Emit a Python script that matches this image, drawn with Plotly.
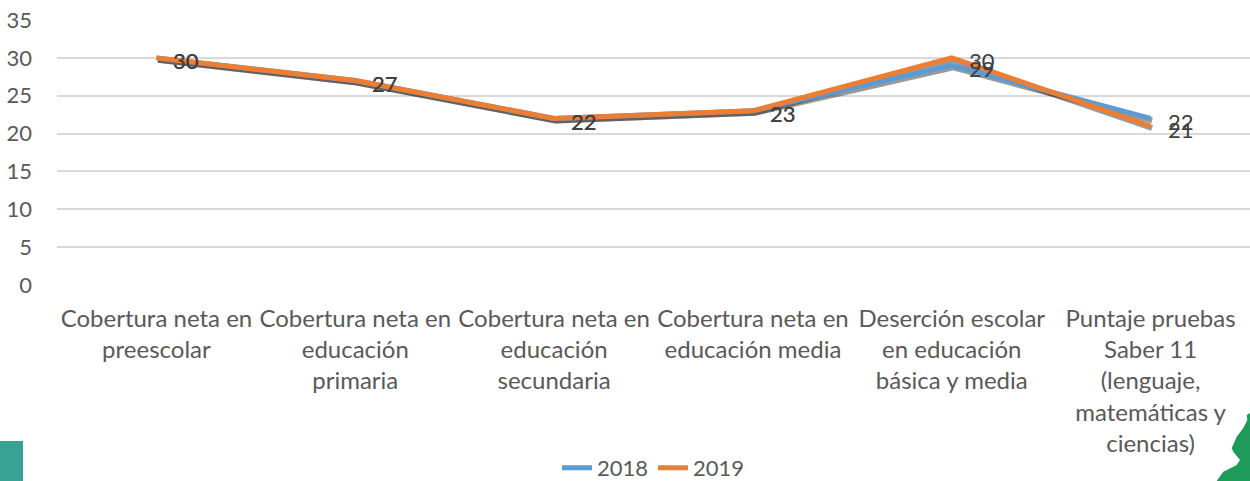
import plotly.graph_objects as go

categories = [
    "Cobertura neta en<br>preescolar",
    "Cobertura neta en<br>educación<br>primaria",
    "Cobertura neta en<br>educación<br>secundaria",
    "Cobertura neta en<br>educación media",
    "Deserción escolar<br>en educación<br>básica y media",
    "Puntaje pruebas<br>Saber 11<br>(lenguaje,<br>matemáticas y<br>ciencias)",
]
values_2018 = [30, 27, 22, 23, 29, 22]
values_2019 = [30, 27, 22, 23, 30, 21]
series = [("2018", values_2018, "#5B9BD5"), ("2019", values_2019, "#ED7D31")]
y_ticks = [0, 5, 10, 15, 20, 25, 30, 35]

FONT = "Lato"
W, H = 1250, 481
ML, MR, MT, MB = 57, 0, 20, 196
plot_w = W - ML - MR
plot_h = H - MT - MB
ymax = 35
n = len(categories)

sdx, sdy = 1.5, 2.0
xshift_units = sdx * n / plot_w
yshift_units = sdy * ymax / plot_h

fig = go.Figure()

for name, vals, col in series:
    fig.add_trace(go.Scatter(x=categories, y=vals, mode="lines",
                             line=dict(color="rgba(0,0,0,0)", width=1),
                             showlegend=False, hoverinfo="skip",
                             xaxis="x", yaxis="y"))
for name, vals, col in series:
    fig.add_trace(go.Scatter(x=categories, y=vals, mode="lines",
                             line=dict(color="rgba(30,30,30,0.45)", width=6),
                             showlegend=False, hoverinfo="skip",
                             xaxis="x2", yaxis="y2"))
for name, vals, col in series:
    fig.add_trace(go.Scatter(x=categories, y=vals, mode="lines", name=name,
                             line=dict(color=col, width=5),
                             xaxis="x3", yaxis="y3"))

for name, vals, col in series:
    for c, v in zip(categories, vals):
        fig.add_annotation(x=c, y=v, xref="x3", yref="y3", text=str(v),
                           showarrow=False, xanchor="left", yanchor="middle",
                           xshift=15, yshift=-3,
                           font=dict(family=FONT, size=22, color="#404040"))

hidden = dict(showgrid=False, zeroline=False, showticklabels=False,
              showline=False, ticks="")
fig.update_layout(
    width=W, height=H,
    margin=dict(l=ML, r=MR, t=MT, b=MB, autoexpand=False),
    paper_bgcolor="white", plot_bgcolor="white",
    font=dict(family=FONT, size=22, color="#595959"),
    showlegend=True,
    legend=dict(orientation="h", x=0.5, xanchor="center",
                y=-0.69, yanchor="middle",
                font=dict(family=FONT, size=22, color="#595959")),
    xaxis=dict(type="category", categoryarray=categories, range=[-0.5, n - 0.5],
               showgrid=False, zeroline=False, showline=False, ticks="",
               automargin=False, ticklabelstandoff=17,
               tickfont=dict(family=FONT, size=24, color="#595959")),
    yaxis=dict(range=[0, ymax], tickvals=y_ticks, showgrid=True,
               gridcolor="#D9D9D9", gridwidth=1.5, zeroline=False,
               showline=False, ticks="", ticklabelstandoff=24, automargin=False,
               tickfont=dict(family=FONT, size=22, color="#595959")),
    xaxis2=dict(type="category", categoryarray=categories, overlaying="x",
                range=[-0.5 - xshift_units, n - 0.5 - xshift_units], **hidden),
    yaxis2=dict(overlaying="y", range=[yshift_units, ymax + yshift_units], **hidden),
    xaxis3=dict(type="category", categoryarray=categories, overlaying="x",
                range=[-0.5, n - 0.5], **hidden),
    yaxis3=dict(overlaying="y", range=[0, ymax], **hidden),
)

fig.add_shape(type="rect", xref="paper", yref="paper",
              xsizemode="pixel", ysizemode="pixel", xanchor=0, yanchor=0,
              x0=-ML, x1=-ML + 23, y0=-156, y1=-200,
              fillcolor="#38A395", line=dict(width=0), layer="above")
fig.add_shape(type="path", xref="paper", yref="paper",
              xsizemode="pixel", ysizemode="pixel", xanchor=1, yanchor=0,
              path="M 0 -128 L -3.3 -130 L -2.7 -135 L -6.7 -143 L -13.3 -151.7 "
                   "L -18.3 -163.3 L -16.7 -166.7 L -10 -175 L -13.3 -180 "
                   "L -26.7 -186.7 L -33.3 -196 L -33.3 -200 L 0 -200 Z",
              fillcolor="#1E9B58", line=dict(width=0), layer="above")

fig.write_html("out.html",
               config={"displayModeBar": False},
               post_script="document.body.style.margin='0';document.body.style.overflow='hidden';")
